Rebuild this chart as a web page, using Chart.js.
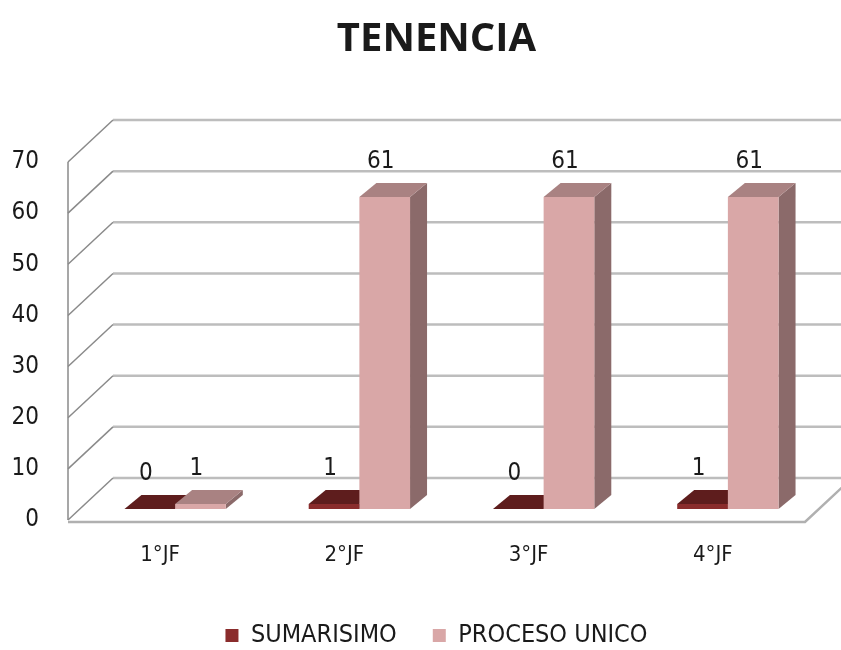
<!DOCTYPE html>
<html>
<head>
<meta charset="utf-8">
<script src="https://cdn.jsdelivr.net/npm/chart.js@4.4.0/dist/chart.umd.min.js"></script>
<style>
  html, body { margin: 0; padding: 0; background: #fff; }
  #wrap { width: 841px; height: 650px; }
</style>
</head>
<body>
<div id="wrap"><canvas id="chart"></canvas></div>
<script>
const categories = ['1°JF', '2°JF', '3°JF', '4°JF'];
const sumarisimo = [0, 1, 0, 1];
const procesoUnico = [1, 61, 61, 61];

const NARROW = "'Liberation Sans Narrow', 'DejaVu Sans Condensed', 'Liberation Sans', sans-serif";

// 3d look: wall depth, bar offset into the depth, bar depth
const WALL_DX = 45, WALL_DY = -42;
const BAR_DX = 15, BAR_DY = -11;
const DEPTH_DX = 17, DEPTH_DY = -14;

const faceColors = [
    { top: '#5e1d1d', side: '#4e1616' },
    { top: '#a98282', side: '#8b6a6a' }
];

function poly(ctx, pts, fill) {
    ctx.beginPath();
    ctx.moveTo(pts[0][0], pts[0][1]);
    for (let i = 1; i < pts.length; i++) ctx.lineTo(pts[i][0], pts[i][1]);
    ctx.closePath();
    ctx.fillStyle = fill;
    ctx.fill();
}

const threeD = {
    id: 'threeD',
    beforeDatasetsDraw(chart) {
        const { ctx, chartArea: a, scales: { y } } = chart;
        ctx.save();

        // back wall + side wall lines
        ctx.lineWidth = 2.5;
        ctx.strokeStyle = '#bdbdbd';
        for (let v = 0; v <= 70; v += 10) {
            const yy = y.getPixelForValue(v);
            ctx.beginPath();
            ctx.moveTo(a.left + WALL_DX, yy + WALL_DY);
            ctx.lineTo(a.right + WALL_DX, yy + WALL_DY);
            ctx.stroke();
        }
        ctx.lineWidth = 1.5;
        ctx.strokeStyle = '#8a8a8a';
        for (let v = 0; v <= 70; v += 10) {
            const yy = y.getPixelForValue(v);
            ctx.beginPath();
            ctx.moveTo(a.left, yy);
            ctx.lineTo(a.left + WALL_DX, yy + WALL_DY);
            ctx.stroke();
        }
        const y0 = y.getPixelForValue(0);
        ctx.beginPath();
        ctx.moveTo(a.left, y.getPixelForValue(70));
        ctx.lineTo(a.left, y0);
        ctx.stroke();

        // floor front edge
        ctx.lineWidth = 2.5;
        ctx.strokeStyle = '#b0b0b0';
        ctx.beginPath();
        ctx.moveTo(a.left, y0 + 2);
        ctx.lineTo(a.right, y0 + 2);
        ctx.lineTo(a.right + WALL_DX, y0 + 2 + WALL_DY);
        ctx.stroke();

        // side and top faces of the bars
        chart.data.datasets.forEach((ds, i) => {
            const meta = chart.getDatasetMeta(i);
            meta.data.forEach(bar => {
                const L = bar.x - bar.width / 2 + BAR_DX;
                const R = bar.x + bar.width / 2 + BAR_DX;
                const T = bar.y + BAR_DY;
                const B = bar.base + BAR_DY;
                poly(ctx, [[R, T], [R + DEPTH_DX, T + DEPTH_DY], [R + DEPTH_DX, B + DEPTH_DY], [R, B]], faceColors[i].side);
                poly(ctx, [[L, T], [R, T], [R + DEPTH_DX, T + DEPTH_DY], [L + DEPTH_DX, T + DEPTH_DY]], faceColors[i].top);
            });
        });

        // fronts are drawn by Chart.js, pushed into the depth
        ctx.translate(BAR_DX, BAR_DY);
    },
    afterDatasetsDraw(chart) {
        const { ctx } = chart;
        ctx.restore();

        ctx.save();
        ctx.font = '24px ' + NARROW;
        ctx.fillStyle = '#1a1a1a';
        ctx.textAlign = 'center';
        ctx.textBaseline = 'middle';
        chart.data.datasets.forEach((ds, i) => {
            const meta = chart.getDatasetMeta(i);
            meta.data.forEach((bar, j) => {
                ctx.fillText(String(ds.data[j]), bar.x + BAR_DX - 4, bar.y + BAR_DY - 35);
            });
        });
        ctx.restore();
    }
};

new Chart(document.getElementById('chart'), {
    type: 'bar',
    data: {
        labels: categories,
        datasets: [{
            label: 'SUMARISIMO',
            data: sumarisimo,
            backgroundColor: '#8a2c2c',
            borderWidth: 0,
            clip: false,
            barPercentage: 1,
            categoryPercentage: 0.55
        }, {
            label: 'PROCESO UNICO',
            data: procesoUnico,
            backgroundColor: '#d9a7a7',
            borderWidth: 0,
            clip: false,
            barPercentage: 1,
            categoryPercentage: 0.55
        }]
    },
    options: {
        responsive: true,
        maintainAspectRatio: false,
        animation: false,
        layout: { padding: { left: 0, right: 36, top: 0, bottom: -8 } },
        plugins: {
            title: {
                display: true,
                text: 'TENENCIA',
                fullSize: false,
                color: '#1a1a1a',
                font: { family: "'Open Sans', 'Liberation Sans', sans-serif", size: 40, weight: 'bold' },
                padding: { top: 16, bottom: 98 }
            },
            legend: {
                position: 'bottom',
                fullSize: false,
                labels: {
                    color: '#1a1a1a',
                    font: { family: NARROW, size: 25 },
                    boxWidth: 13,
                    boxHeight: 13,
                    padding: 36
                }
            },
            tooltip: { enabled: false }
        },
        scales: {
            x: {
                grid: { display: false },
                border: { display: false },
                ticks: { color: '#1a1a1a', font: { family: NARROW, size: 22 }, padding: 14 },
                afterFit(scale) { scale.height = 67; }
            },
            y: {
                min: 0,
                max: 70,
                grid: { display: false },
                border: { display: false },
                ticks: { stepSize: 10, color: '#1a1a1a', font: { family: NARROW, size: 24 }, padding: 21 },
                afterFit(scale) { scale.width = 68; }
            }
        }
    },
    plugins: [threeD]
});
</script>
</body>
</html>
